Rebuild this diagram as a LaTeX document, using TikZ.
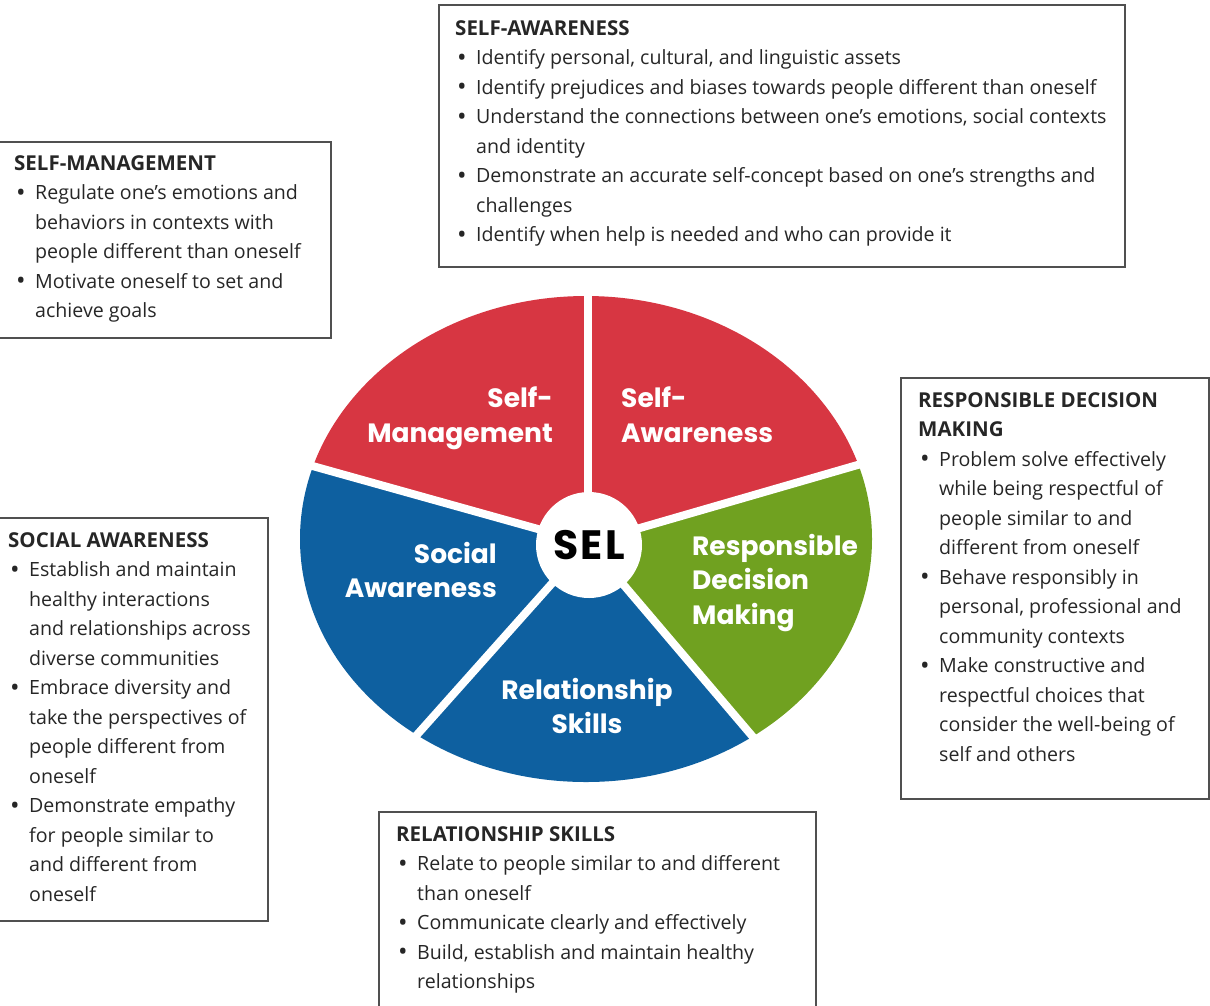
\documentclass[tikz,border=0pt]{standalone}
\usepackage{fontspec}
\setmainfont{Open Sans}
\newfontfamily\wheelfont{Poppins}
\newfontfamily\selfont[LetterSpace=6]{Poppins}
\usetikzlibrary{calc}
\definecolor{selred}{RGB}{215,54,66}
\definecolor{selblue}{RGB}{14,96,160}
\definecolor{selgreen}{RGB}{112,161,32}
\definecolor{framegray}{RGB}{80,80,80}
\newcommand{\bl}{\makebox[21pt][l]{\hspace{2pt}\raisebox{-1.8pt}{\scalebox{1.3}{\textbullet}}}}
\newcommand{\ct}{\hspace*{21pt}}
\newcommand{\ttl}[1]{{\fontsize{20.5}{29.5}\selectfont\bfseries #1}}
\begin{document}
\begin{tikzpicture}[x=1pt,y=-1pt,
  frame/.style={draw=framegray, line width=1.6pt, rectangle, inner sep=0pt, anchor=north west},
  boxtext/.style={anchor=north west, inner sep=0pt, align=left, font=\fontsize{19.6}{29.5}\selectfont, text=black!85},
  wlabel/.style={inner sep=0pt, text=white, font=\wheelfont\bfseries\fontsize{26.5}{34.5}\selectfont},
  divider/.style={white, line width=8pt}]
\useasboundingbox (0,0) rectangle (1210,1005);
\clip (0,0) rectangle (1210,1005);

% wheel
\coordinate (C) at (588,543);
\coordinate (pT) at (588,296);
\coordinate (pL) at (309,465);
\coordinate (pLL) at (415,737);
\coordinate (pLR) at (753,737);
\coordinate (pR) at (861,464);
\begin{scope}
  \clip (586,539) ellipse [x radius=286, y radius=243];
  \fill[selred] (C) -- ($(C)!2.5!(pT)$) -- ($(C)!2.5!(pL)$) -- cycle;
  \fill[selred] (C) -- ($(C)!2.5!(pT)$) -- ($(C)!2.5!(pR)$) -- cycle;
  \fill[selgreen] (C) -- ($(C)!2.5!(pR)$) -- ($(C)!2.5!(pLR)$) -- cycle;
  \fill[selblue] (C) -- ($(C)!2.5!(pLR)$) -- ($(C)!2.5!(pLL)$) -- cycle;
  \fill[selblue] (C) -- ($(C)!2.5!(pLL)$) -- ($(C)!2.5!(pL)$) -- cycle;
\end{scope}
\draw[divider] (C) -- ($(C)!1.05!(pT)$);
\draw[divider] (C) -- ($(C)!1.05!(pL)$);
\draw[divider] (C) -- ($(C)!1.05!(pLL)$);
\draw[divider] (C) -- ($(C)!1.05!(pLR)$);
\draw[divider] (C) -- ($(C)!1.05!(pR)$);
\node[circle, fill=white, minimum size=106pt, inner sep=0pt, font=\selfont\bfseries\fontsize{41}{41}\selectfont] (sel) at (589,545) {SEL};

\node[wlabel, anchor=north east, align=right] (lsm) at (553,387) {Self-\\Management};
\node[wlabel, anchor=north west, align=left] (lsa) at (621,387) {Self-\\Awareness};
\node[wlabel, anchor=north east, align=right] (lsoc) at (497,542) {Social\\Awareness};
\node[wlabel, anchor=north west, align=left] (lrdm) at (692,534) {Responsible\\Decision\\Making};
\node[wlabel, anchor=north, align=center] (lrs) at (587,678) {Relationship\\Skills};

% boxes
\node[frame, minimum width=686pt, minimum height=262pt] (sabox) at (438,4) {};
\node[boxtext] (satext) at (455,20) {\ttl{SELF-AWARENESS}\\
\bl Identify personal, cultural, and linguistic assets\\
\bl Identify prejudices and biases towards people different than oneself\\
\bl Understand the connections between one’s emotions, social contexts\\
\ct and identity\\
\bl Demonstrate an accurate self-concept based on one’s strengths and\\
\ct challenges\\
\bl Identify when help is needed and who can provide it};

\node[frame, minimum width=335pt, minimum height=196pt] (smbox) at (-5,141) {};
\node[boxtext] (smtext) at (14,155) {\ttl{SELF-MANAGEMENT}\\
\bl Regulate one’s emotions and\\
\ct behaviors in contexts with\\
\ct people different than oneself\\
\bl Motivate oneself to set and\\
\ct achieve goals};

\node[frame, minimum width=308pt, minimum height=421pt] (rdmbox) at (900,377) {};
\node[boxtext] (rdmtext) at (918,392) {\ttl{RESPONSIBLE DECISION}\\
\ttl{MAKING}\\
\bl Problem solve effectively\\
\ct while being respectful of\\
\ct people similar to and\\
\ct different from oneself\\
\bl Behave responsibly in\\
\ct personal, professional and\\
\ct community contexts\\
\bl Make constructive and\\
\ct respectful choices that\\
\ct consider the well-being of\\
\ct self and others};

\node[frame, minimum width=272pt, minimum height=403pt] (socbox) at (-5,517) {};
\node[boxtext] (soctext) at (8,532) {\ttl{SOCIAL AWARENESS}\\
\bl Establish and maintain\\
\ct healthy interactions\\
\ct and relationships across\\
\ct diverse communities\\
\bl Embrace diversity and\\
\ct take the perspectives of\\
\ct people different from\\
\ct oneself\\
\bl Demonstrate empathy\\
\ct for people similar to\\
\ct and different from\\
\ct oneself};

\node[frame, minimum width=437pt, minimum height=220pt] (rsbox) at (378,811) {};
\node[boxtext] (rstext) at (396,826) {\ttl{RELATIONSHIP SKILLS}\\
\bl Relate to people similar to and different\\
\ct than oneself\\
\bl Communicate clearly and effectively\\
\bl Build, establish and maintain healthy\\
\ct relationships};
\end{tikzpicture}
\end{document}
